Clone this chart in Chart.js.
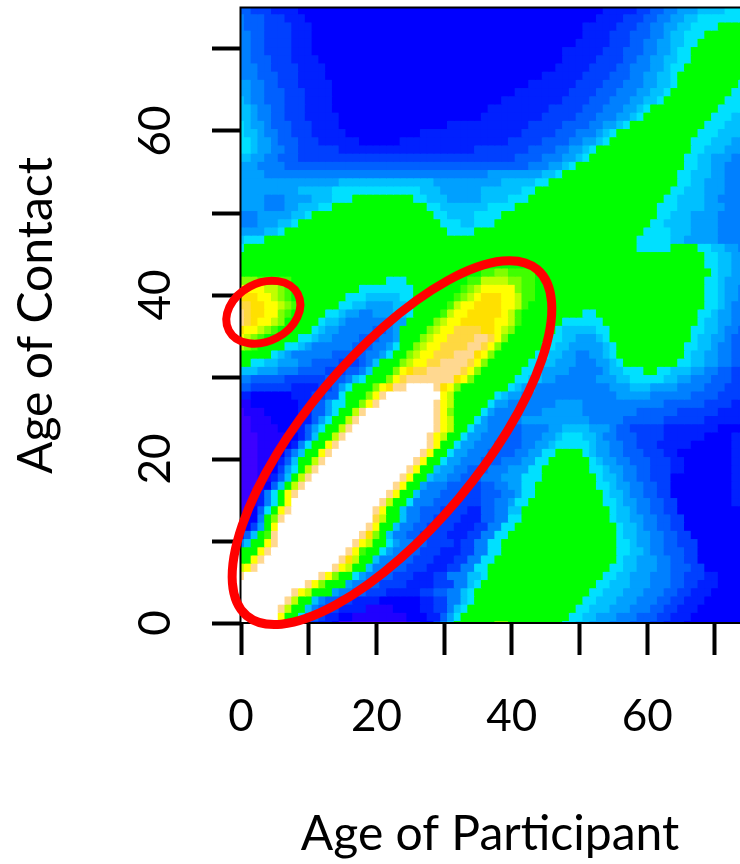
<!DOCTYPE html>
<html>
<head>
<meta charset="utf-8">
<title>Age of Contact by Age of Participant</title>
<script src="https://cdn.jsdelivr.net/npm/chart.js@4"></script>
<style>
  html, body { margin: 0; padding: 0; background: #fff; }
  canvas { display: block; }
</style>
</head>
<body>
<canvas id="contactChart" width="740" height="864"></canvas>
<script>
const xTickLabels = [0, 20, 40, 60];
const yTickLabels = [0, 20, 40, 60];

// one letter per contact intensity level, low to high
const levelColors = {
  a: '#3c00ff', b: '#2000ff', c: '#0000ff', d: '#0020ff', e: '#0040ff', f: '#0060ff',
  g: '#0080ff', h: '#00a0ff', i: '#00c0ff', j: '#00e0ff', l: '#00ff00', m: '#40ff00',
  n: '#80ff00', o: '#c0ff00', p: '#ffff00', q: '#ffe000', r: '#ffd840', s: '#ffd890',
  t: '#ffffff'
};

// contact age 75 (top) down to 0, each token = level + last participant age of that run
const heatRows = [
  'f1 e4 d8 c53 d58 e60 f62 g64 h67 i71 j74',
  'g0 f3 e6 d9 c52 d56 e59 f61 g63 h65 i67 j74',
  'g0 f3 e7 d10 c50 d55 e58 f60 g62 h64 i66 j70 l74',
  'g1 f3 e7 d10 c50 d54 e57 f60 g62 h63 i65 j68 l74',
  'g1 f3 e7 d10 c49 d54 e57 f59 g61 h63 i65 j67 l74',
  'g1 f3 e7 d10 c47 d53 e56 f59 g61 h63 i64 j66 l74',
  'g1 f4 e7 d11 c47 d52 e56 f58 g60 h62 i64 j66 l74',
  'g2 f4 e8 d12 c46 d51 e55 f57 g60 h62 i63 j65 l74',
  'g2 f5 e8 d12 c44 d50 e54 f57 g59 h61 i63 j64 l74',
  'h1 g3 f5 e8 d13 c42 d49 e53 f56 g59 h61 i63 j64 l73 j74',
  'h1 g3 f6 e9 d13 c40 d48 e52 f55 g58 h60 i62 j63 l72 j74',
  'i0 h1 g3 f6 e9 d13 c38 d47 e51 f54 g57 h59 i61 j62 l71 j74',
  'i1 h2 g4 f6 e9 d13 c36 d45 e50 f53 g56 h58 i59 j60 l70 j74',
  'i1 h2 g4 f6 e9 d14 c35 d44 e49 f52 g55 h57 i58 j59 l69 j72 i74',
  'j0 i1 h3 g4 f7 e10 d14 c30 d42 e47 f51 g53 h55 i56 j57 l68 j71 i74',
  'j0 i2 h3 g5 f7 e10 d15 c26 d41 e46 f49 g52 h53 i54 j55 l67 j70 i74',
  'j1 i2 h4 g5 f8 e11 d17 c23 d39 e44 f48 g50 h52 i53 j54 l66 j69 i72 h74',
  'j1 i2 h4 g6 f8 e14 d34 e42 f46 g48 h50 i51 j52 l66 j68 i71 h74',
  'i1 h3 g5 f8 e40 f44 g47 h49 i50 j51 l65 j67 i69 h72 g74',
  'h2 g6 f42 g45 h47 i48 j49 l65 j67 i69 h71 g74',
  'h3 g36 h44 i46 j47 l64 j66 i69 h71 g74',
  'h14 i28 h38 i43 j45 l64 j66 i68 h71 g74',
  'h8 i13 j26 i29 h35 i41 j43 l63 j65 i68 h71 g74',
  'h3 g6 h10 i13 j16 l25 j27 i30 h35 i39 j42 l62 j64 i68 h70 g74',
  'h3 g6 h8 i11 j13 l27 j29 i32 i36 j40 l61 j64 i68 h71 g74',
  'g2 h7 i9 j10 l28 j30 i34 j38 l61 j63 i66 h70 g74',
  'g2 h5 i7 j8 l29 j32 i34 j37 l60 j62 i66 h70 g74',
  'h3 i5 j6 l30 j34 l59 j63 i66 h70 g74',
  'i0 j3 l58 j63 i65 h70 g74',
  'j0 l58 j63 l67 j69 i71 h73 g74',
  'l68 j70 i72 h74',
  'l68 j70 i72 h74',
  'l35 m37 n39 m43 l69 j70 i72 h74',
  'n2 m7 l21 j24 l33 m35 o39 n41 m43 l68 j70 i71 h74',
  'p3 o5 n6 m7 l17 j25 l32 m33 n34 o35 p40 n41 m43 l68 j70 i71 h73 g74',
  'q2 p4 o5 n6 m7 l15 j18 i23 j25 l31 m32 n33 o34 p35 q38 p40 o41 m43 l68 j70 i71 h73 g74',
  'r1 q3 p5 o6 n7 m8 l14 j16 i18 h22 i24 j25 l30 m31 o32 p34 q38 p40 o41 m42 l68 j70 i71 h72 g74',
  's0 r1 q3 p5 n6 m7 l12 j14 i15 h17 g19 h22 i24 j25 l29 m30 o31 p33 q38 p39 o40 m41 l50 j52 l67 j69 i70 h72 g74',
  's0 r1 q2 p4 o5 n6 l11 j12 i14 h15 g22 h24 l28 n29 o30 p32 q37 p39 o40 m41 l47 j53 l67 j68 i70 h72 g74',
  'q0 p2 o3 n4 m5 l10 j11 i12 h14 g19 f21 g22 h23 l27 n28 o29 p31 r35 q37 p38 o39 n40 l46 j47 i52 j54 l66 j68 i70 h71 g73 f74',
  'p0 o1 n2 m3 l8 j10 i11 h13 g17 f20 g22 h23 l26 n27 o28 p30 r34 s36 r37 p38 n39 l45 j47 i49 h52 i53 j54 l66 j67 i69 h71 g72 f74',
  'o0 n1 m2 l6 j8 i9 h10 g16 f19 g21 h22 j23 l25 n26 o27 p29 r33 s35 r36 p37 n38 l44 j46 i48 h53 i54 j55 l65 j67 i69 h70 g72 f74',
  'l4 j5 i6 h7 g13 f18 g20 h21 j22 l24 n25 o26 p28 r31 s34 q35 p36 n37 l43 j45 i47 h49 g51 h53 i54 j55 l65 j66 i68 h70 g72 f74',
  'l1 j3 i5 h8 g10 f14 e17 f18 g19 i20 l23 n24 o25 p27 r29 s33 r34 p35 n36 l42 j44 i46 h49 g52 h54 i55 j56 l64 j66 i68 h70 g72 f74',
  'i2 h5 g8 f12 e15 f17 g18 i19 l22 n23 p24 q25 r27 s32 r33 p34 n35 l41 j43 i44 h48 g53 h54 i56 j59 l61 j63 i66 h68 g70 f72 e74',
  'g1 f6 e12 f15 g16 i17 j18 l21 n22 p23 r24 s31 q32 p33 n34 l40 j42 i44 h46 g52 h55 i57 j62 i64 h66 g69 f72 e74',
  'f1 e7 d11 e13 f14 h15 j16 l19 n20 p21 q22 s24 t28 s29 q30 p31 n32 l39 j40 i41 h43 g54 h57 i60 h64 g68 f71 e74',
  'd1 c7 d10 e12 f14 j15 l18 n19 p20 s21 t29 p30 o31 l37 j38 i39 h41 g55 h60 g66 f70 e74',
  'b1 c8 d10 f12 h13 j15 l17 n18 p19 s20 t28 s29 p30 o31 l36 j37 h39 g46 h50 g62 f68 e72 d74',
  'a0 b3 c8 d10 f12 h13 j14 l16 o17 s18 t28 s29 p30 n31 l35 j36 h37 g44 h50 g58 f64 e70 d74',
  'a1 b4 c8 d10 f11 h12 j13 l15 o16 s17 t28 s29 p30 o31 l34 j35 h36 g41 h51 g56 f62 e68 d74',
  'a1 b5 c7 d9 f10 h11 j12 l14 o15 s16 t28 s29 p30 o31 l33 j34 h36 g39 f41 g45 h47 i51 h54 g55 f57 e62 d70 c74',
  'a2 b6 c8 d9 f10 i11 l13 o14 s15 t27 s28 p29 o30 l32 j33 h35 g38 f41 g44 h46 i47 j50 i52 h53 g55 f58 e62 d68 c72 d74',
  'a2 b6 c7 d8 g9 j10 l12 p13 s14 t27 s28 p29 l31 j32 h34 g37 f41 g43 h45 i46 j51 i52 h54 g56 f58 e61 d66 c72 d74',
  'a2 b5 c6 e7 g8 i9 l11 p12 s13 t26 s27 p28 l30 j31 h33 g36 f40 g42 h44 j46 l50 j51 i52 h54 g56 f59 e62 d64 c72 d74',
  'a2 b4 c5 d6 f7 i8 l10 o11 s12 t25 s26 p27 l29 j30 h32 g35 f38 g41 h43 j45 l51 j52 i53 h55 g57 f60 e63 d65 c72 d74',
  'a2 b4 c5 e6 h7 j8 l9 o10 s11 t24 s25 p26 l28 i29 h31 g33 f36 g39 h42 j44 l51 j53 i54 h56 g58 f60 e63 d65 c72 d74',
  'a2 b4 d5 f6 i7 l8 o9 s10 t23 s24 p25 l27 i28 h30 g32 f35 g38 h41 j44 l52 j53 i55 h56 g58 f60 e63 c72 d74',
  'a2 b3 c4 f5 i6 l7 o8 s9 t22 s23 p24 l26 h27 g30 f33 e35 f37 g39 h41 j43 l52 j54 i55 h57 g59 f61 e63 c72 d74',
  'a1 b2 d3 g4 j5 l6 p7 s8 t21 s22 p23 l25 i26 g29 f32 e35 f38 g40 h41 j43 l53 j54 i56 h57 g59 f61 e63 c72 d74',
  'a1 b2 d3 g4 j5 l6 p7 t20 s21 o22 l24 j25 g28 f31 e35 f37 g39 h40 j42 l53 j55 i56 h58 g60 f62 e64 c72 d74',
  'a1 c2 f3 j4 l5 p6 s7 t19 s20 p21 l23 i24 g26 f29 e33 d35 f37 g39 i41 l54 j55 i57 h58 g60 f62 e64 c74',
  'a0 c2 g3 l4 n5 s6 t19 r20 o21 l23 i24 g26 f28 e32 d35 f37 g39 j41 l54 j55 i57 h59 g61 f63 e65 c74',
  'b0 c1 e2 h3 l4 p5 t18 s19 p20 l22 i23 g25 f27 e31 d34 e36 g38 j40 l55 j56 i58 h59 g61 f63 e65 c74',
  'd0 f1 i2 l3 m4 s5 t17 s18 q19 n20 l21 i22 g24 f26 e30 d33 e35 g37 j39 l55 j56 i58 h60 g62 f64 e66 c74',
  'g0 i1 l3 p4 s5 t16 s17 p18 o19 l21 j22 h23 g25 f27 e31 d32 e34 g36 j38 l55 j57 i58 h60 g62 f64 e67 c74',
  'l2 p3 s4 t15 s16 p17 m18 l20 j21 h22 g24 f26 e29 d32 e34 g36 j38 l55 j57 i59 h60 g62 f65 e67 c74',
  'l1 p2 s3 t14 s15 q16 o17 l19 i20 g23 f25 e28 d31 e33 g35 j37 l55 j56 i58 h61 g63 f65 e67 c74',
  'o0 p1 s2 t13 s14 p15 o16 l18 i19 g21 f24 e27 d30 e32 g34 j36 l54 j56 i58 h61 g63 f66 e68 c74',
  's0 t11 s12 p13 n14 l16 j17 h18 g20 f22 e25 d28 e30 g33 i35 j36 l53 j55 i57 h60 g63 f65 e68 d70 c74',
  't9 s10 p11 n12 l15 h16 g18 f20 e24 d28 e31 g33 i34 j35 l52 j54 i57 h60 g63 f65 e67 d70 c74',
  't7 s8 p9 o10 l13 h14 g16 f18 e21 d26 e28 f30 g32 i33 j34 l51 j53 i56 h59 g62 f64 e66 d69 c74',
  't6 s7 o8 l10 i11 g12 f14 e16 d20 c26 d28 e30 g32 i33 j34 l50 j52 i55 h58 g61 f63 e65 d68 c74',
  't5 s6 o7 l9 i10 g11 f12 e14 d18 b22 c26 d28 e30 g31 i32 j33 l49 j51 i54 h57 g60 f62 e64 d67 c74',
  't5 p6 l8 j9 g10 f11 e12 d14 c16 b24 c27 d29 f30 h31 j32 l48 j50 i52 h55 g58 f61 e63 d66 c74',
  't5 p6 l7 j8 h9 f10 e11 d13 c14 a24 b26 c28 e29 g30 i31 l37 n39 l47 j49 i51 h54 g57 f60 e62 d65 c74'
];

// highlighted regions, centre in data units
const highlightEllipses = [
  { x: 22.3, y: 22, rx: 226, ry: 87, angle: -50, width: 9 },
  { x: 3.3, y: 37.9, rx: 39, ry: 29, angle: -28, width: 8 }
];

function expandRow(row) {
  const levels = [];
  row.split(' ').forEach(token => {
    const last = parseInt(token.slice(1));
    while (levels.length <= last) levels.push(token[0]);
  });
  return levels;
}

// cell edges in the image sit 0.3 above whole contact ages
const datasets = heatRows.map((row, i) => {
  const age = heatRows.length - 1 - i;
  const levels = expandRow(row);
  return {
    data: levels.map((_, col) => ({ x: col, y: [Math.max(age - 0.7, 0), Math.min(age + 0.3, 75)] })),
    backgroundColor: levels.map(l => levelColors[l]),
    grouped: false,
    categoryPercentage: 1,
    barPercentage: 1,
    inflateAmount: 0.5,
    borderSkipped: false
  };
});

const frameAndEllipses = {
  id: 'frameAndEllipses',
  afterDatasetsDraw(chart) {
    const { ctx, chartArea, scales } = chart;
    ctx.save();
    ctx.strokeStyle = '#000';
    ctx.lineWidth = 2;
    ctx.beginPath();
    ctx.moveTo(chartArea.left + 0.5, chartArea.bottom);
    ctx.lineTo(chartArea.left + 0.5, chartArea.top - 0.5);
    ctx.lineTo(chartArea.right, chartArea.top - 0.5);
    ctx.moveTo(chartArea.left, chartArea.bottom);
    ctx.lineTo(chartArea.right, chartArea.bottom);
    ctx.stroke();
    ctx.strokeStyle = '#ff0000';
    highlightEllipses.forEach(e => {
      ctx.lineWidth = e.width;
      ctx.beginPath();
      ctx.ellipse(scales.x.getPixelForValue(e.x), scales.y.getPixelForValue(e.y), e.rx, e.ry, e.angle * Math.PI / 180, 0, Math.PI * 2);
      ctx.stroke();
    });
    ctx.restore();
  }
};

new Chart(document.getElementById('contactChart'), {
  type: 'bar',
  data: { datasets },
  plugins: [frameAndEllipses],
  options: {
    responsive: false,
    animation: false,
    events: [],
    layout: { padding: { top: 8 } },
    plugins: { legend: { display: false }, tooltip: { enabled: false } },
    scales: {
      x: {
        type: 'linear',
        offset: false,
        min: -0.148,
        max: 73.7,
        afterFit(scale) { scale.height = 241; scale.paddingLeft = 0; scale.paddingRight = 0; },
        border: { display: false },
        grid: { offset: false, drawOnChartArea: false, tickLength: 32, tickWidth: 4, tickColor: '#000' },
        ticks: {
          stepSize: 10,
          autoSkip: false,
          includeBounds: false,
          maxRotation: 0,
          padding: 35,
          color: '#000',
          font: { family: 'Lato', size: 44 },
          callback: v => xTickLabels.includes(v) ? String(v) : ''
        },
        title: {
          display: true,
          text: 'Age of Participant',
          color: '#000',
          font: { family: 'Lato', size: 48 },
          padding: { top: 0, bottom: 1 }
        }
      },
      y: {
        min: 0,
        max: 75,
        afterFit(scale) { scale.width = 240; scale.paddingTop = 0; scale.paddingBottom = 0; },
        border: { display: false },
        grid: { drawOnChartArea: false, tickLength: 28, tickWidth: 4, tickColor: '#000' },
        ticks: {
          stepSize: 10,
          autoSkip: false,
          includeBounds: false,
          minRotation: 90,
          maxRotation: 90,
          crossAlign: 'center',
          padding: 31,
          color: '#000',
          font: { family: 'Lato', size: 44 },
          callback: v => yTickLabels.includes(v) ? String(v) : ''
        },
        title: {
          display: true,
          text: 'Age of Contact',
          color: '#000',
          font: { family: 'Lato', size: 48 },
          padding: { top: 8, bottom: 0 }
        }
      }
    }
  }
});
</script>
</body>
</html>
